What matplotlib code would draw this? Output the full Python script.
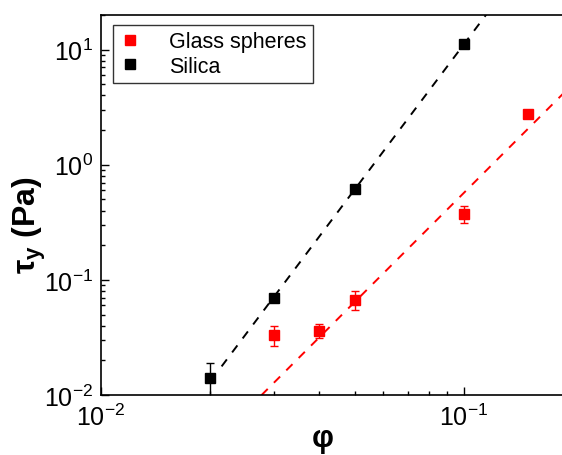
import numpy as np
import matplotlib
matplotlib.use("Agg")
import matplotlib.pyplot as plt

plt.rcParams['font.family'] = ['Liberation Sans', 'DejaVu Sans']
plt.rcParams['mathtext.fontset'] = 'custom'
plt.rcParams['mathtext.rm'] = 'Liberation Sans'
plt.rcParams['mathtext.it'] = 'Liberation Sans:italic'
plt.rcParams['mathtext.bf'] = 'Liberation Sans:bold'

# volume fraction vs yield stress
phi_glass = [0.03, 0.04, 0.05, 0.10, 0.15]
tau_glass = [0.0333, 0.0363, 0.0675, 0.375, 2.75]
err_glass = [0.0067, 0.005, 0.013, 0.065, 0.2]

phi_silica = [0.02, 0.03, 0.05, 0.10]
tau_silica = [0.0141, 0.0693, 0.61, 11.3]
err_silica = [0.005, 0.005, 0.03, 0.5]

# power-law fits  tau = A * phi^n
fit_glass = dict(A=804, n=3.15, lo=0.0277, hi=0.2)
fit_silica = dict(A=1.72e5, n=4.19, lo=0.0215, hi=0.12)

fig = plt.figure(figsize=(5.62, 4.56), dpi=100)
ax = fig.add_axes([101/562, 1 - 396/456, (573 - 101)/562, (396 - 16)/456])

for fit, c in [(fit_silica, 'black'), (fit_glass, 'red')]:
    xf = np.logspace(np.log10(fit['lo']), np.log10(fit['hi']), 50)
    ax.plot(xf, fit['A'] * xf ** fit['n'], '--', color=c, lw=1.4, dashes=(4.5, 4.5))

ax.errorbar(phi_glass, tau_glass, yerr=err_glass, fmt='s', color='red',
            ms=7.5, elinewidth=1, capsize=3, capthick=1, label='Glass spheres')
ax.errorbar(phi_silica, tau_silica, yerr=err_silica, fmt='s', color='black',
            ms=7.5, elinewidth=1, capsize=3, capthick=1, label='Silica')

ax.set_xscale('log')
ax.set_yscale('log')
ax.set_xlim(0.01, 0.2)
ax.set_ylim(0.01, 20)

ax.tick_params(which='both', direction='in', labelsize=18, width=1,
               top=False, right=False)
ax.tick_params(which='major', length=6, pad=6)
ax.tick_params(which='minor', length=3)
for s in ax.spines.values():
    s.set_linewidth(1.2)

ax.set_xlabel('φ', fontsize=22, fontweight='bold')
ax.xaxis.set_label_coords(0.47, -0.075)
ax.set_ylabel(r'τ$_{\mathbf{y}}$ (Pa)', fontsize=23, fontweight='bold')
ax.yaxis.set_label_coords(-0.113, 0.45)

handles, labels = ax.get_legend_handles_labels()
handles = [h[0] for h in handles]
leg = ax.legend(handles, labels, loc='upper left', fontsize=15.5, frameon=True,
                fancybox=False, edgecolor='black', handlelength=1.0,
                handletextpad=1.3, borderpad=0.3, labelspacing=0.15,
                bbox_to_anchor=(0.025, 0.974), borderaxespad=0)
leg.get_frame().set_linewidth(1)

fig.savefig('out.png', dpi=100)
